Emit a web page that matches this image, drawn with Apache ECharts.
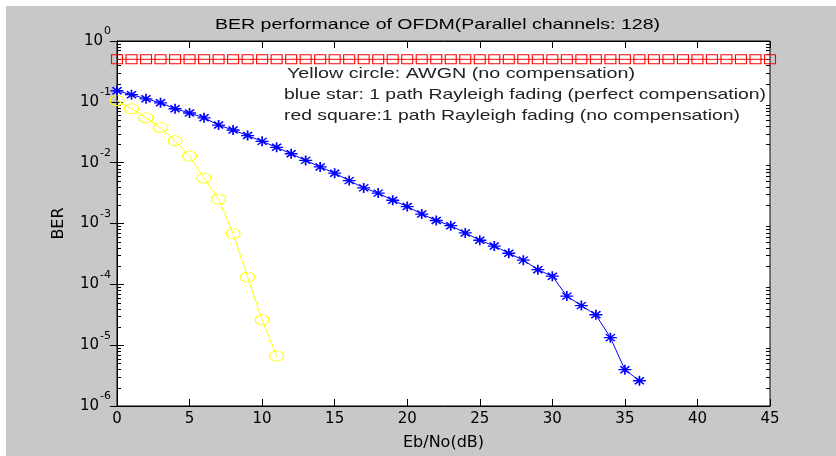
<!DOCTYPE html>
<html><head><meta charset="utf-8">
<script src="https://cdn.jsdelivr.net/npm/echarts@6/dist/echarts.min.js"></script>
<style>html,body{margin:0;padding:0;background:#fff}#c{width:836px;height:456px}</style>
</head><body><div id="c"></div>
<script>
// ---- data ----
const titleText = 'BER performance of OFDM(Parallel channels: 128)';
const xName = 'Eb/No(dB)';
const yName = 'BER';
const legendLines = [
  'Yellow circle: AWGN (no compensation)',
  'blue star: 1 path Rayleigh fading (perfect compensation)',
  'red square:1 path Rayleigh fading (no compensation)'
];
const xTicks = [0, 5, 10, 15, 20, 25, 30, 35, 40, 45];
const yDecades = [-6, -5, -4, -3, -2, -1, 0];
const minorMultipliers = [2, 3, 4, 5, 6, 7, 8, 9];

const ebnoAwgn = [0, 1, 2, 3, 4, 5, 6, 7, 8, 9, 10, 11];
const berAwgn = [0.105, 0.077, 0.0546, 0.0377, 0.0229, 0.0128, 0.00558, 0.00251, 6.8e-4, 1.31e-4, 2.6e-5, 6.65e-6];

const ebnoRayComp = [0,1,2,3,4,5,6,7,8,9,10,11,12,13,14,15,16,17,18,19,20,21,22,23,24,25,26,27,28,29,30,31,32,33,34,35,36];
const berRayComp = [0.152, 0.131, 0.112, 0.0964, 0.077, 0.0656, 0.0546, 0.0415, 0.0344, 0.0279,
  0.0224, 0.0179, 0.014, 0.0109, 0.0085, 0.00672, 0.00507, 0.00385, 0.00316, 0.00241,
  0.0019, 0.00143, 0.00112, 9.2e-4, 7.0e-4, 5.3e-4, 4.26e-4, 3.24e-4, 2.5e-4, 1.74e-4,
  1.36e-4, 6.4e-5, 4.47e-5, 3.16e-5, 1.33e-5, 3.95e-6, 2.6e-6];

const ebnoRayNoComp = [0,1,2,3,4,5,6,7,8,9,10,11,12,13,14,15,16,17,18,19,20,21,22,23,24,25,26,27,28,29,30,31,32,33,34,35,36,37,38,39,40,41,42,43,44,45];
const berRayNoComp = [0.5,0.5,0.5,0.5,0.5,0.5,0.5,0.5,0.5,0.5,0.5,0.5,0.5,0.5,0.5,0.5,0.5,0.5,0.5,0.5,0.5,0.5,0.5,
  0.5,0.5,0.5,0.5,0.5,0.5,0.5,0.5,0.5,0.5,0.5,0.5,0.5,0.5,0.5,0.5,0.5,0.5,0.5,0.5,0.5,0.5,0.5];

// ---- chart ----
const FONT = 'DejaVu Sans';
const TFONT = 'Liberation Sans';
const zip = (a, b) => a.map((v, i) => [v, b[i]]);
const minorVals = [];
yDecades.slice(0, -1).forEach(d => minorMultipliers.forEach(m => minorVals.push([xTicks[0], m * Math.pow(10, d)])));

// horizontal stretch of free texts to match the reference widths
const mctx = document.createElement('canvas').getContext('2d');
mctx.font = '15px "' + TFONT + '"';
const stretch = (txt, w) => w / mctx.measureText(txt).width;

const chart = echarts.init(document.getElementById('c'), null, {renderer: 'canvas'});
const xMin = xTicks[0], xMax = xTicks[xTicks.length - 1];
const yMin = Math.pow(10, yDecades[0]), yMax = Math.pow(10, yDecades[yDecades.length - 1]);

const axisCommon = {
  axisLine: {show: true, lineStyle: {color: '#000', width: 1}},
  axisTick: {show: true, inside: true, length: 7, lineStyle: {color: '#000', width: 1}},
  splitLine: {show: false}
};

const starPath = 'path://M0,-5L0,5M-5,0L5,0M-3.5,-3.5L3.5,3.5M-3.5,3.5L3.5,-3.5';
const ellipsePath = 'path://M-1,0A1,1,0,1,0,1,0A1,1,0,1,0,-1,0Z';

const txt = (t, x, y, w, align, fill) => ({
  type: 'text', x: x, y: y, scaleX: stretch(t, w), z: 100, silent: true,
  style: {text: t, fontFamily: TFONT, fontSize: 15, fill: fill, align: align, verticalAlign: 'middle'}
});

chart.setOption({
  animation: false,
  backgroundColor: '#c8c8c8',
  grid: {left: 117, right: 66, top: 41, bottom: 43, show: true, backgroundColor: '#fff', borderColor: '#000', borderWidth: 1},
  xAxis: [
    Object.assign({type: 'value', min: xMin, max: xMax, interval: 5, position: 'bottom',
      name: xName, nameLocation: 'middle', nameGap: 29,
      nameTextStyle: {fontFamily: FONT, fontSize: 16, color: '#000'},
      axisLabel: {show: true, margin: 6, fontFamily: FONT, fontSize: 15, color: '#000'}}, axisCommon),
    Object.assign({type: 'value', min: xMin, max: xMax, interval: 5, position: 'top',
      axisLabel: {show: false}}, axisCommon)
  ],
  yAxis: [
    Object.assign({type: 'log', logBase: 10, min: yMin, max: yMax, interval: 1, splitNumber: 6, position: 'left',
      name: yName, nameLocation: 'middle', nameGap: 50, nameRotate: 90,
      nameTextStyle: {fontFamily: FONT, fontSize: 16, color: '#000'},
      axisLabel: {show: true, margin: 6, color: '#000',
        formatter: v => '{b|10}{s|' + Math.round(Math.log10(v)) + '}',
        rich: {
          b: {fontFamily: FONT, fontSize: 15, lineHeight: 30, verticalAlign: 'middle', color: '#000', padding: [0, 1, 0, 0]},
          s: {fontFamily: FONT, fontSize: 11, lineHeight: 10, verticalAlign: 'top', color: '#000'}
        }}}, axisCommon),
    Object.assign({type: 'log', logBase: 10, min: yMin, max: yMax, interval: 1, splitNumber: 6, position: 'right',
      axisLabel: {show: false}}, axisCommon)
  ],
  graphic: [
    {type: 'rect', shape: {x: 0, y: 0, width: 836, height: 6}, style: {fill: '#fff'}, z: -100, silent: true},
    {type: 'rect', shape: {x: 0, y: 0, width: 6, height: 456}, style: {fill: '#fff'}, z: -100, silent: true},
    txt(titleText, 437.5, 25, 445, 'center', '#000'),
    txt(legendLines[0], 287, 74, 348, 'left', '#222'),
    txt(legendLines[1], 284, 95, 482, 'left', '#222'),
    txt(legendLines[2], 284, 116, 456, 'left', '#222')
  ],
  series: [
    {
      type: 'custom', silent: true, clip: false, data: minorVals, encode: {x: 0, y: 1},
      renderItem: (params, api) => {
        const v = api.value(1);
        const pl = api.coord([xMin, v]);
        const pr = api.coord([xMax, v]);
        const y = Math.round(pl[1]) + 0.5;
        return {type: 'group', children: [
          {type: 'line', shape: {x1: pl[0], y1: y, x2: pl[0] + 4, y2: y}, style: {stroke: '#000', lineWidth: 1}},
          {type: 'line', shape: {x1: pr[0], y1: y, x2: pr[0] - 4, y2: y}, style: {stroke: '#000', lineWidth: 1}}
        ]};
      }
    },
    {
      type: 'line', data: zip(ebnoRayNoComp, berRayNoComp), clip: false,
      symbol: 'rect', symbolSize: [11, 9], showAllSymbol: true,
      lineStyle: {color: '#ff0000', width: 1},
      itemStyle: {color: 'rgba(0,0,0,0)', borderColor: '#ff0000', borderWidth: 1}
    },
    {
      type: 'line', data: zip(ebnoAwgn, berAwgn), clip: false,
      symbol: ellipsePath, symbolSize: [14, 10], showAllSymbol: true,
      lineStyle: {color: '#ffff00', width: 1},
      itemStyle: {color: 'rgba(0,0,0,0)', borderColor: '#ffff00', borderWidth: 1}
    },
    {
      type: 'line', data: zip(ebnoRayComp, berRayComp), clip: false,
      symbol: starPath, symbolSize: [13, 10], showAllSymbol: true,
      lineStyle: {color: '#0000ff', width: 1},
      itemStyle: {color: '#0000ff', borderColor: '#0000ff', borderWidth: 1.5}
    }
  ]
});
</script>
</body></html>
